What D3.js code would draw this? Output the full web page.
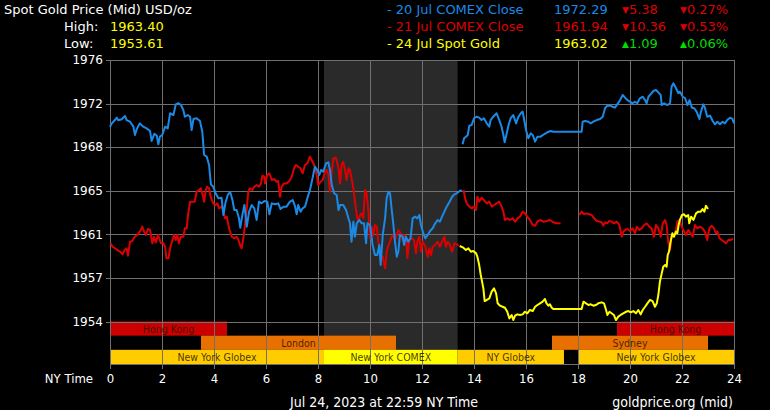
<!DOCTYPE html>
<html><head><meta charset="utf-8">
<script src="https://cdn.jsdelivr.net/npm/d3@7"></script>
<style>html,body{margin:0;padding:0;background:#000;} svg{display:block;}</style>
</head><body>
<svg id="c" width="770" height="410"></svg>
<script>
// ---------- DATA ----------
const titleText = "Spot Gold Price (Mid) USD/oz";
const statLabels = ["High:", "Low:"];
const statValues = ["1963.40", "1953.61"];

const legendLabels = ["- 20 Jul COMEX Close", "- 21 Jul COMEX Close", "- 24 Jul Spot Gold"];
const legendValues = ["1972.29", "1961.94", "1963.02"];
const legendChanges = ["5.38", "10.36", "1.09"];
const legendPcts = ["0.27%", "0.53%", "0.06%"];
const legendDirs = ["down", "down", "up"];

const yTicks = [1953.6, 1957.27, 1960.93, 1964.6, 1968.27, 1971.93, 1975.6];
const xTicks = [0, 2, 4, 6, 8, 10, 12, 14, 16, 18, 20, 22, 24];
const xAxisTitle = "NY Time";
const footerLeft = "Jul 24, 2023 at 22:59 NY Time";
const footerRight = "goldprice.org (mid)";

const comexShade = [8.23, 13.37];

// sessions: [row, start hour, end hour, label, kind]
const sessions = [
  [0, 0, 4.5, "Hong Kong", "hk"],
  [0, 19.5, 24, "Hong Kong", "hk"],
  [1, 3.5, 11, "London", "eu"],
  [1, 17, 23, "Sydney", "eu"],
  [2, 0, 8.23, "New York Globex", "globex"],
  [2, 8.23, 13.37, "New York COMEX", "comex"],
  [2, 13.37, 17.46, "NY Globex", "globex"],
  [2, 18, 24, "New York Globex", "globex"]
];

// [hour, price]; null = gap
const blue = [
[0,1969.99],[0.07,1970.27],[0.19,1970.55],[0.26,1970.75],[0.32,1970.53],[0.45,1970.61],[0.58,1970.89],[0.64,1970.55],[0.77,1970.41],[0.9,1969.99],[0.96,1969.29],[1.03,1969.8],[1.15,1970.27],[1.28,1969.99],[1.41,1969.85],[1.54,1969.63],[1.6,1968.79],[1.71,1969.4],[1.8,1969.23],[1.86,1968.51],[1.92,1969.15],[2.01,1969.29],[2.12,1969.99],[2.22,1969.85],[2.31,1971.12],[2.44,1970.97],[2.53,1971.87],[2.63,1971.96],[2.73,1971.81],[2.82,1971.39],[2.88,1970.83],[2.99,1970.97],[3.08,1970.83],[3.14,1969.71],[3.21,1970.64],[3.33,1970.7],[3.46,1970.47],[3.55,1969.57],[3.62,1967.61],[3.72,1967.47],[3.81,1966.77],[3.88,1965.14],[3.97,1964.94],[4.06,1964.39],[4.17,1963.96],[4.29,1964.02],[4.36,1962.56],[4.45,1963.68],[4.53,1964.24],[4.62,1964.52],[4.71,1963.82],[4.78,1962.98],[4.87,1962.98],[4.96,1962.28],[5.01,1961.49],[5.09,1962.56],[5.17,1963.4],[5.26,1961.58],[5.35,1962.84],[5.45,1963.4],[5.55,1963.12],[5.64,1962.14],[5.73,1963.68],[5.83,1963.54],[5.94,1963.74],
[6.05,1963.68],[6.13,1962.62],[6.22,1963.54],[6.35,1963.46],[6.47,1963.54],[6.56,1963.06],[6.67,1963.26],[6.79,1963.26],[6.92,1963.68],[7.03,1963.82],[7.12,1963.26],[7.18,1962.62],[7.24,1963.4],[7.33,1962.84],[7.41,1963.12],[7.5,1963.26],[7.59,1963.96],[7.69,1964.66],[7.79,1965.65],[7.88,1966.62],[7.97,1966.35],[8.05,1965.93],[8.12,1966.35],[8.2,1966.21],[8.31,1966.91],[8.4,1966.99],[8.46,1966.35],[8.53,1965.08],[8.62,1964.39],[8.72,1964.24],[8.79,1962.98],[8.85,1963.4],[8.97,1963.4],[9.08,1962.98],[9.17,1962.28],[9.23,1961.86],[9.29,1960.31],[9.36,1962.0],[9.42,1960.73],[9.49,1961.86],[9.59,1962.14],[9.68,1961.86],[9.77,1961.86],[9.85,1960.18],[9.9,1961.86],[10.0,1961.72],[10.1,1960.04],[10.19,1959.19],[10.28,1959.19],[10.36,1960.04],[10.41,1958.35],[10.49,1960.88],[10.58,1962.28],[10.64,1963.96],[10.71,1964.52],[10.77,1964.39],[10.83,1963.12],[10.9,1961.72],[10.96,1960.31],[11.03,1959.05],[11.09,1959.47],[11.15,1960.88],[11.26,1960.73],[11.31,1960.04],[11.38,1960.73],[11.47,1960.31],[11.56,1960.6],[11.64,1962.28],[11.73,1962.42],[11.82,1962.28],[11.9,1962.56],[11.96,1961.72],[12.05,1961.02],[12.13,1960.6],[12.22,1960.88],[12.31,1961.21],[12.41,1961.44],[12.51,1961.86],[12.6,1962.14],[12.69,1962.0],[12.77,1962.42],[12.86,1962.84],[12.95,1963.26],[13.06,1963.68],[13.16,1964.1],[13.25,1964.3],[13.34,1964.39],[13.45,1964.58],[13.53,1964.66],
[13.545,null],
[13.56,1968.51],[13.62,1969.01],[13.69,1969.15],[13.76,1969.29],[13.82,1970.07],[13.91,1970.13],[14.0,1970.7],[14.1,1970.83],[14.2,1970.75],[14.29,1970.55],[14.38,1970.7],[14.49,1970.27],[14.59,1969.99],[14.64,1970.55],[14.74,1970.83],[14.87,1971.12],[14.97,1970.55],[15.06,1969.99],[15.13,1969.29],[15.18,1968.68],[15.26,1969.43],[15.33,1970.13],[15.41,1970.7],[15.51,1970.97],[15.62,1970.27],[15.71,1970.83],[15.8,1971.12],[15.87,1971.26],[15.92,1970.7],[16.0,1969.71],[16.09,1969.01],[16.18,1969.43],[16.26,1969.29],[16.35,1968.73],[16.44,1969.15],[16.56,1969.15],[16.69,1969.35],[16.82,1969.52],[16.95,1969.63],[17.05,1969.57],[18.14,1969.57],[18.18,1970.41],[18.27,1970.47],[18.4,1970.41],[18.49,1970.27],[18.59,1970.41],[18.72,1970.55],[18.85,1970.64],[18.95,1970.83],[19.04,1971.54],[19.13,1971.76],[19.23,1971.76],[19.33,1971.67],[19.42,1971.59],[19.51,1971.87],[19.62,1972.23],[19.72,1972.66],[19.81,1972.43],[19.9,1972.23],[20.0,1972.09],[20.1,1971.96],[20.19,1972.09],[20.28,1971.96],[20.38,1972.38],[20.49,1972.51],[20.58,1972.23],[20.64,1971.96],[20.71,1972.51],[20.79,1972.71],[20.9,1972.99],[21.0,1973.08],[21.09,1972.88],[21.18,1972.66],[21.22,1971.81],[21.31,1971.96],[21.44,1971.81],[21.54,1971.96],[21.6,1973.35],[21.67,1973.64],[21.77,1973.22],[21.86,1972.8],[21.92,1972.93],[22.03,1972.51],[22.12,1972.38],[22.21,1971.81],[22.29,1972.23],[22.38,1971.59],[22.47,1971.54],[22.56,1971.26],[22.67,1970.64],[22.73,1971.26],[22.82,1971.87],[22.88,1971.59],[22.97,1970.83],[23.08,1970.92],[23.18,1970.47],[23.27,1970.19],[23.36,1970.41],[23.46,1970.19],[23.56,1970.41],[23.65,1970.27],[23.74,1970.55],[23.85,1970.75],[23.94,1970.64],[24.0,1970.27]
];

const red = [
[0.02,1960.18],[0.1,1959.89],[0.19,1959.76],[0.29,1959.61],[0.39,1959.47],[0.48,1959.25],[0.56,1959.61],[0.64,1959.76],[0.69,1959.14],[0.77,1960.31],[0.86,1960.37],[0.95,1960.73],[1.05,1960.88],[1.15,1961.16],[1.24,1961.58],[1.31,1961.16],[1.38,1960.88],[1.46,1961.38],[1.54,1961.3],[1.63,1960.18],[1.69,1960.73],[1.76,1960.26],[1.85,1960.88],[1.96,1960.18],[2.06,1960.18],[2.12,1959.89],[2.17,1958.92],[2.25,1958.92],[2.31,1959.76],[2.4,1960.46],[2.46,1960.88],[2.53,1960.46],[2.59,1960.88],[2.65,1960.18],[2.72,1960.73],[2.82,1960.73],[2.88,1961.44],[2.95,1961.44],[3.0,1962.56],[3.08,1963.68],[3.17,1963.68],[3.26,1963.68],[3.33,1964.52],[3.42,1964.66],[3.49,1964.81],[3.55,1964.39],[3.62,1963.68],[3.68,1964.66],[3.74,1964.94],[3.81,1964.81],[3.87,1964.1],[3.97,1963.54],[4.06,1963.4],[4.13,1963.54],[4.19,1963.12],[4.29,1963.26],[4.36,1962.98],[4.42,1962.28],[4.49,1962.42],[4.58,1961.44],[4.68,1960.73],[4.78,1960.6],[4.87,1960.73],[4.94,1960.46],[5.0,1960.04],[5.06,1959.76],[5.13,1960.6],[5.19,1961.72],[5.26,1963.12],[5.32,1964.52],[5.38,1964.81],[5.47,1964.66],[5.55,1964.94],[5.64,1965.08],[5.73,1964.94],[5.81,1965.22],[5.86,1965.87],[5.94,1965.78],
[5.96,1965.22],[6.05,1965.93],[6.13,1966.07],[6.22,1965.5],[6.31,1965.59],[6.41,1965.36],[6.47,1965.42],[6.54,1964.1],[6.6,1964.94],[6.69,1965.22],[6.79,1965.22],[6.9,1965.42],[6.99,1965.78],[7.08,1966.49],[7.15,1966.77],[7.24,1966.62],[7.33,1966.49],[7.41,1966.07],[7.5,1966.77],[7.59,1966.91],[7.69,1967.47],[7.79,1967.04],[7.88,1966.62],[7.95,1965.93],[8.01,1965.08],[8.1,1965.36],[8.18,1965.5],[8.27,1966.21],[8.33,1966.35],[8.4,1965.93],[8.46,1964.52],[8.53,1966.21],[8.59,1967.33],[8.69,1967.38],[8.79,1966.49],[8.85,1965.22],[8.91,1966.77],[8.97,1967.04],[9.04,1966.35],[9.1,1965.5],[9.17,1966.49],[9.23,1966.35],[9.29,1965.65],[9.36,1964.81],[9.42,1963.68],[9.49,1962.56],[9.55,1962.0],[9.62,1962.56],[9.68,1962.7],[9.74,1962.28],[9.81,1964.66],[9.87,1964.39],[9.94,1962.84],[10.0,1960.6],[10.06,1961.58],[10.13,1960.88],[10.19,1961.72],[10.26,1961.58],[10.32,1960.31],[10.41,1959.19],[10.49,1959.05],[10.58,1958.07],[10.64,1959.47],[10.71,1960.04],[10.77,1960.31],[10.83,1960.73],[10.9,1960.88],[10.96,1960.46],[11.03,1960.88],[11.09,1961.3],[11.18,1961.02],[11.26,1960.46],[11.31,1960.88],[11.38,1960.73],[11.44,1958.92],[11.51,1960.46],[11.6,1960.6],[11.69,1960.46],[11.77,1959.33],[11.82,1960.31],[11.9,1960.73],
[11.96,1959.47],[12.03,1960.31],[12.13,1959.89],[12.22,1959.05],[12.28,1959.76],[12.35,1959.19],[12.41,1959.89],[12.51,1960.04],[12.6,1960.31],[12.69,1959.89],[12.77,1960.31],[12.86,1960.73],[12.92,1959.89],[12.99,1960.31],[13.06,1960.09],[13.16,1959.47],[13.25,1960.18],[13.34,1960.09],[13.41,1959.97],
[13.5,null],
[13.6,1964.66],[13.66,1963.96],[13.72,1963.54],[13.82,1963.26],[13.91,1963.12],[14.0,1963.26],[14.08,1962.98],[14.13,1964.1],[14.2,1963.68],[14.29,1964.02],[14.38,1963.82],[14.49,1963.54],[14.59,1963.68],[14.68,1963.26],[14.77,1963.4],[14.87,1963.54],[14.97,1963.68],[15.06,1963.26],[15.13,1962.84],[15.19,1962.14],[15.28,1962.28],[15.38,1962.14],[15.49,1962.28],[15.58,1962.0],[15.67,1962.28],[15.77,1962.42],[15.87,1962.84],[15.96,1962.7],[16.05,1962.42],[16.15,1962.14],[16.26,1961.72],[16.35,1961.66],[16.44,1962.0],[16.54,1962.14],[16.67,1962.0],[16.79,1962.06],[16.92,1962.14],[17.05,1961.95],[17.18,1961.86],[17.33,1961.86],
[17.6,null],
[18.05,1962.56],[18.14,1962.84],[18.23,1962.62],[18.33,1962.7],[18.44,1962.62],[18.53,1962.56],[18.62,1962.28],[18.72,1962.06],[18.82,1962.0],[18.91,1961.95],[18.97,1961.66],[19.04,1961.95],[19.13,1961.86],[19.2,1962.06],[19.29,1962.0],[19.38,1961.86],[19.49,1962.0],[19.59,1961.72],[19.68,1960.73],[19.74,1961.16],[19.81,1961.3],[19.9,1961.38],[20.0,1961.21],[20.1,1961.44],[20.19,1961.02],[20.26,1961.58],[20.36,1961.3],[20.45,1961.44],[20.54,1961.72],[20.64,1961.86],[20.74,1961.58],[20.83,1961.44],[20.92,1960.73],[21.0,1961.72],[21.09,1961.44],[21.18,1960.73],[21.26,1961.86],[21.35,1962.14],[21.41,1961.72],[21.47,1960.31],[21.54,1959.61],[21.6,1960.73],[21.69,1960.88],[21.77,1961.3],[21.82,1962.0],[21.9,1962.14],[21.99,1961.58],[22.08,1961.16],[22.15,1960.88],[22.24,1961.3],[22.33,1961.02],[22.41,1960.73],[22.5,1961.72],[22.59,1961.44],[22.69,1961.58],[22.79,1961.44],[22.88,1961.16],[22.97,1960.46],[23.05,1961.44],[23.14,1961.66],[23.23,1961.44],[23.31,1961.02],[23.36,1961.16],[23.44,1960.6],[23.53,1960.46],[23.62,1960.31],[23.69,1960.18],[23.78,1960.46],[23.87,1960.46],[23.97,1960.55]
];

const yellow = [
[13.45,1959.95],[13.59,1959.81],[13.69,1959.61],[13.78,1959.76],[13.88,1959.47],[13.97,1959.53],[14.08,1959.33],[14.13,1959.05],[14.2,1958.35],[14.26,1957.51],[14.31,1956.95],[14.36,1956.39],[14.41,1955.32],[14.49,1955.41],[14.59,1955.55],[14.68,1956.11],[14.77,1956.39],[14.85,1955.97],[14.91,1955.13],[15.0,1954.93],[15.1,1954.84],[15.19,1954.76],[15.28,1954.42],[15.36,1953.86],[15.45,1954.15],[15.51,1953.72],[15.58,1954.09],[15.67,1954.2],[15.77,1954.15],[15.87,1954.2],[15.96,1954.42],[16.05,1954.29],[16.15,1954.57],[16.26,1954.48],[16.35,1954.84],[16.44,1954.99],[16.54,1955.13],[16.64,1955.27],[16.73,1955.49],[16.79,1955.13],[16.86,1954.93],[16.92,1955.05],[16.99,1954.76],[17.05,1954.65],
[18.14,1954.65],[18.21,1955.27],[18.31,1955.13],[18.4,1954.99],[18.49,1955.05],[18.59,1954.93],[18.69,1954.99],[18.78,1955.13],[18.91,1955.21],[19.0,1955.13],[19.08,1954.57],[19.13,1954.15],[19.21,1954.42],[19.29,1954.29],[19.38,1954.15],[19.46,1953.72],[19.55,1954.01],[19.64,1954.15],[19.74,1954.29],[19.85,1954.42],[19.94,1954.48],[20.03,1954.37],[20.13,1954.48],[20.23,1954.29],[20.32,1954.57],[20.41,1954.2],[20.49,1954.57],[20.58,1954.84],[20.67,1955.13],[20.77,1955.41],[20.87,1955.32],[20.96,1954.84],[21.03,1955.13],[21.09,1955.83],[21.15,1956.95],[21.22,1957.65],[21.28,1958.21],[21.35,1958.35],[21.41,1958.21],[21.45,1959.19],[21.5,1959.47],[21.56,1960.31],[21.63,1961.02],[21.69,1960.73],[21.77,1961.16],[21.82,1961.02],[21.87,1961.72],[21.92,1962.14],[22.0,1962.56],[22.08,1962.62],[22.15,1962.42],[22.24,1962.56],[22.28,1961.86],[22.35,1962.42],[22.44,1962.14],[22.54,1962.7],[22.63,1962.84],[22.72,1962.84],[22.79,1963.06],[22.86,1962.84],[22.92,1963.34],[23.0,1963.06]
];

// ---------- STYLE ----------
const C = {
  bg: "#000", grid: "#707070", shade: "#2a2a2a", text: "#ffffff",
  blue: "#1a8ae6", red: "#dd0000", yellow: "#ffff00", green: "#00dd00",
  hk: "#cc0000", eu: "#e87000", globex: "#ffcc00", comex: "#ffff00"
};
const FONT = "'DejaVu Sans', Verdana, sans-serif";
const FONT_C = "'DejaVu Sans Condensed', 'DejaVu Sans', sans-serif";

const svg = d3.select("#c");
svg.append("rect").attr("width", 770).attr("height", 410).attr("fill", C.bg);

const plotTop = 60, plotBottom = 364;
const x = d3.scaleLinear().domain([0, 24]).range([110, 734]);
const y = d3.scaleLinear().domain([1953.6, 1975.6]).range([321.5, 60]);
const rowTop = y(1953.6), rowH = (plotBottom - rowTop) / 3;

// COMEX shading
svg.append("rect")
  .attr("x", x(comexShade[0])).attr("y", plotTop)
  .attr("width", x(comexShade[1]) - x(comexShade[0]))
  .attr("height", plotBottom - plotTop)
  .attr("fill", C.shade);

// session bars
const sg = svg.append("g");
sg.selectAll("rect").data(sessions).join("rect")
  .attr("x", d => x(d[1])).attr("width", d => x(d[2]) - x(d[1]))
  .attr("y", d => rowTop + d[0] * rowH).attr("height", rowH)
  .attr("fill", d => C[d[4]]);

// grid
const gg = svg.append("g").attr("stroke", C.grid).attr("stroke-width", 1).attr("shape-rendering", "crispEdges");
gg.selectAll("line.h").data(yTicks).join("line").attr("class", "h")
  .attr("x1", 106).attr("x2", x(24))
  .attr("y1", d => Math.round(y(d)) + 0.5).attr("y2", d => Math.round(y(d)) + 0.5);
gg.append("line").attr("x1", x(0)).attr("x2", x(24))
  .attr("y1", plotBottom + 0.5).attr("y2", plotBottom + 0.5);
gg.selectAll("line.v").data(xTicks).join("line").attr("class", "v")
  .attr("x1", d => Math.round(x(d)) + 0.5).attr("x2", d => Math.round(x(d)) + 0.5)
  .attr("y1", plotTop).attr("y2", plotBottom + 5);

// session labels (above grid)
sg.clone(false);
svg.append("g").selectAll("text").data(sessions).join("text")
  .attr("x", d => (x(d[1]) + x(d[2])) / 2)
  .attr("y", d => rowTop + (d[0] + 1) * rowH - 3)
  .attr("text-anchor", "middle")
  .attr("font-family", FONT_C).attr("font-size", 10.5)
  .attr("fill", "rgba(40,20,0,0.85)")
  .text(d => d[3]);

// y axis labels
const yAxis = d3.axisLeft(y).tickValues(yTicks).tickFormat(d3.format(".0f")).tickSize(0).tickPadding(0);
const ya = svg.append("g").attr("transform", "translate(103,0)").call(yAxis);
ya.select(".domain").remove();
ya.selectAll("text").attr("font-family", FONT).attr("font-size", 12).attr("fill", C.text).attr("x", 0);

// x axis labels
const xAxis = d3.axisBottom(x).tickValues(xTicks).tickFormat(d3.format("d")).tickSize(0).tickPadding(0);
const xa = svg.append("g").attr("transform", "translate(0,373)").call(xAxis);
xa.select(".domain").remove();
xa.selectAll("text").attr("font-family", FONT_C).attr("font-size", 13).attr("fill", C.text).attr("dy", "0.75em");
svg.append("text").attr("x", 93).attr("y", 383).attr("text-anchor", "end")
  .attr("font-family", FONT_C).attr("font-size", 13).attr("fill", C.text).text(xAxisTitle);

// lines
const line = d3.line().defined(d => d[1] != null).x(d => x(d[0])).y(d => y(d[1]));
[[red, C.red], [blue, C.blue], [yellow, C.yellow]].forEach(([data, col]) => {
  svg.append("path").datum(data).attr("d", line)
    .attr("fill", "none").attr("stroke", col).attr("stroke-width", 2)
    .attr("stroke-linejoin", "round");
});

// header
svg.append("text").attr("x", 4).attr("y", 13.5).attr("font-family", FONT).attr("font-size", 13)
  .attr("fill", C.text).text(titleText);
statLabels.forEach((s, i) => {
  svg.append("text").attr("x", 64).attr("y", 30.5 + i * 17).attr("font-family", FONT).attr("font-size", 13)
    .attr("fill", C.text).text(s);
  svg.append("text").attr("x", 110).attr("y", 30.5 + i * 17).attr("font-family", FONT).attr("font-size", 13)
    .attr("fill", C.yellow).text(statValues[i]);
});

// legend
const legCols = [C.blue, C.red, C.yellow];
legendLabels.forEach((lab, i) => {
  const yy = 13.5 + i * 17;
  const t = (xx, txt, col) => svg.append("text").attr("x", xx).attr("y", yy)
    .attr("font-family", FONT).attr("font-size", 13).attr("fill", col).text(txt);
  t(387, lab, legCols[i]);
  t(554, legendValues[i], legCols[i]);
  const up = legendDirs[i] === "up";
  const ccol = up ? C.green : C.red;
  const arrow = up ? "\u25B2" : "\u25BC";
  [[622, legendChanges[i]], [680, legendPcts[i]]].forEach(([xx, v]) => {
    const tx = svg.append("text").attr("x", xx).attr("y", yy)
      .attr("font-family", FONT).attr("font-size", 13).attr("fill", ccol);
    tx.append("tspan").attr("font-size", 9).attr("dy", -1).text(arrow);
    tx.append("tspan").attr("dy", 1).text(v);
  });
});

// footer
svg.append("text").attr("x", 290).attr("y", 407).attr("font-family", FONT_C).attr("font-size", 14)
  .attr("fill", C.text).text(footerLeft);
svg.append("text").attr("x", 733).attr("y", 407).attr("text-anchor", "end").attr("font-family", FONT_C).attr("font-size", 14)
  .attr("fill", C.text).text(footerRight);
</script>
</body></html>
